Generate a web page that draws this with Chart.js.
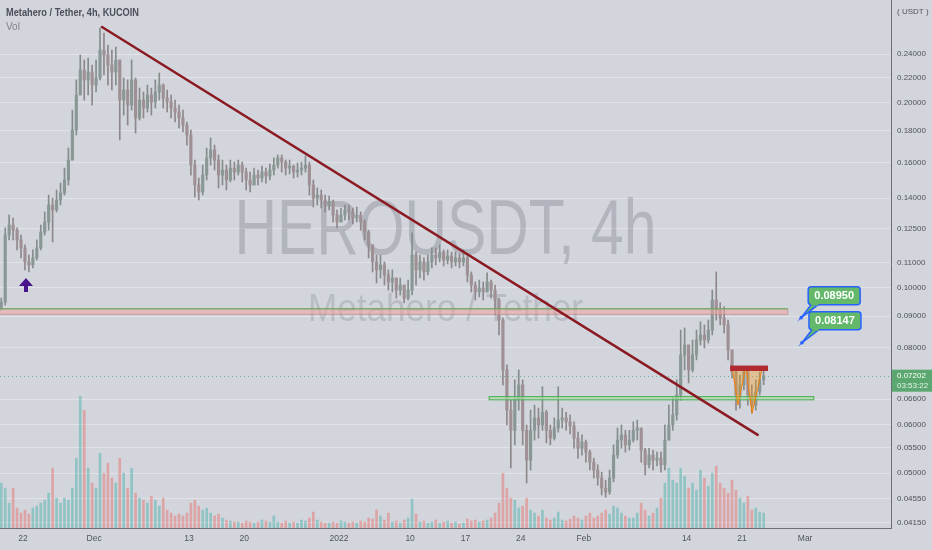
<!DOCTYPE html>
<html>
<head>
<meta charset="utf-8">
<script src="https://cdn.jsdelivr.net/npm/chart.js@4/dist/chart.umd.min.js"></script>
<style>
  html, body { margin: 0; padding: 0; background: #d2d5dc; }
  canvas { display: block; }
</style>
</head>
<body>
<canvas id="chart" width="932" height="550"></canvas>
<script>
// HEROUSDT, KuCoin. Candles are 12h, x is days counted from 22 Nov 2021.
const firstDay = -2.75;
const stepDay = 0.5;
const firstOpen = 0.0930;

const closes = [
  .0949,.1219,.1266,.1242,.1197,.1162,.1102,.1090,.1119,.1162,
  .1233,.1280,.1364,.1339,.1390,.1427,.1498,.1614,.1806,.2059,
  .2261,.2178,.2244,.2137,.2195,.2436,.2391,.2304,.2244,.2347,
  .2020,.2098,.1983,.2178,.1889,.2020,.1961,.2059,.2005,.2082,
  .2137,.2036,.2005,.1961,.1932,.1889,.1840,.1773,.1584,.1470,
  .1432,.1526,.1627,.1676,.1614,.1526,.1555,.1498,.1566,.1543,
  .1584,.1543,.1498,.1470,.1526,.1509,.1543,.1520,.1555,.1584,
  .1627,.1602,.1566,.1578,.1543,.1555,.1566,.1584,.1470,.1400,
  .1416,.1390,.1364,.1380,.1314,.1280,.1314,.1339,.1329,.1299,
  .1314,.1280,.1233,.1175,.1102,.1070,.1090,.1050,.1023,.1038,
  .0992,.1011,.0963,.0992,.1131,.1070,.1102,.1062,.1102,.1131,
  .1119,.1144,.1110,.1127,.1102,.1119,.1102,.1119,.1050,.1011,
  .0985,.1000,.0985,.1023,.0992,.0956,.0887,.0736,.0633,.0587,
  .0657,.0696,.0587,.0525,.0587,.0615,.0599,.0628,.0587,.0570,
  .0592,.0610,.0615,.0606,.0597,.0570,.0549,.0562,.0541,.0521,
  .0506,.0491,.0473,.0466,.0491,.0535,.0566,.0577,.0556,.0566,
  .0587,.0592,.0545,.0516,.0535,.0525,.0529,.0516,.0566,.0599,
  .0622,.0670,.0778,.0808,.0736,.0778,.0823,.0839,.0823,.0854,
  .0956,.0921,.0894,.0871,.0793,.0730,.0670,.0696,.0730,.0670,
  .0645,.0678,.0709,.0720
];
const highs = [
  .0963,.1252,.1314,.1299,.1252,.1219,.1175,.1131,.1153,.1197,
  .1266,.1329,.1416,.1400,.1443,.1481,.1566,.1688,.1946,.2178,
  .2391,.2347,.2364,.2304,.2347,.2646,.2597,.2482,.2436,.2464,
  .2347,.2195,.2178,.2347,.2195,.2113,.2082,.2137,.2113,.2178,
  .2236,.2146,.2098,.2059,.2020,.1983,.1946,.1861,.1806,.1614,
  .1509,.1584,.1688,.1753,.1707,.1645,.1614,.1584,.1614,.1602,
  .1614,.1602,.1566,.1543,.1566,.1555,.1578,.1566,.1590,.1627,
  .1645,.1645,.1614,.1614,.1584,.1596,.1602,.1639,.1602,.1498,
  .1454,.1443,.1416,.1411,.1390,.1339,.1349,.1364,.1364,.1349,
  .1354,.1329,.1290,.1242,.1175,.1131,.1131,.1102,.1070,.1070,
  .1038,.1038,.1011,.1030,.1229,.1144,.1131,.1119,.1131,.1162,
  .1162,.1175,.1153,.1153,.1144,.1144,.1136,.1153,.1131,.1062,
  .1023,.1030,.1023,.1058,.1030,.1011,.0963,.0894,.0750,.0657,
  .0709,.0736,.0709,.0599,.0633,.0645,.0638,.0691,.0633,.0599,
  .0615,.0691,.0638,.0628,.0622,.0606,.0583,.0577,.0566,.0545,
  .0529,.0516,.0502,.0487,.0506,.0556,.0592,.0599,.0587,.0587,
  .0606,.0610,.0592,.0549,.0549,.0545,.0541,.0541,.0599,.0645,
  .0665,.0709,.0854,.0861,.0808,.0823,.0854,.0881,.0871,.0887,
  .0992,.1062,.0946,.0932,.0887,.0793,.0742,.0722,.0744,.0736,
  .0696,.0709,.0730,.0736
];
const lows = [
  .0921,.0938,.1197,.1197,.1153,.1119,.1070,.1062,.1078,.1110,
  .1153,.1219,.1242,.1188,.1329,.1364,.1416,.1470,.1614,.1773,
  .2059,.2020,.2059,.1983,.2082,.2178,.2219,.2137,.2098,.2137,
  .1740,.1910,.1840,.1946,.1786,.1875,.1889,.1932,.1910,.1961,
  .2020,.1961,.1932,.1889,.1861,.1820,.1793,.1707,.1526,.1405,
  .1390,.1416,.1498,.1584,.1555,.1454,.1470,.1443,.1487,.1498,
  .1526,.1487,.1443,.1432,.1470,.1470,.1487,.1481,.1498,.1526,
  .1566,.1543,.1526,.1532,.1509,.1515,.1526,.1543,.1416,.1354,
  .1364,.1349,.1329,.1339,.1280,.1252,.1280,.1290,.1290,.1271,
  .1280,.1242,.1197,.1119,.1062,.1019,.1038,.1011,.0992,.0985,
  .0963,.0974,.0946,.0956,.0974,.1011,.1038,.1030,.1050,.1078,
  .1090,.1102,.1086,.1094,.1078,.1086,.1078,.1086,.1023,.0985,
  .0956,.0967,.0956,.0985,.0963,.0904,.0839,.0696,.0599,.0510,
  .0556,.0633,.0556,.0482,.0506,.0566,.0570,.0587,.0560,.0556,
  .0566,.0583,.0592,.0587,.0579,.0549,.0529,.0535,.0521,.0506,
  .0491,.0478,.0461,.0457,.0462,.0484,.0529,.0549,.0541,.0545,
  .0562,.0566,.0521,.0497,.0510,.0506,.0514,.0502,.0506,.0566,
  .0587,.0610,.0657,.0736,.0701,.0730,.0764,.0808,.0799,.0814,
  .0839,.0887,.0871,.0845,.0764,.0714,.0633,.0638,.0683,.0645,
  .0626,.0633,.0670,.0696
];
const volumes = [
  45,40,25,40,20,15,18,14,20,22,
  25,28,35,60,30,25,30,28,40,70,
  132,118,60,45,40,75,55,65,50,45,
  70,55,40,60,35,30,28,25,32,28,
  22,30,18,15,12,14,12,15,25,28,
  22,18,20,15,12,14,10,8,7,6,
  6,5,7,6,5,6,8,7,6,12,
  6,5,7,5,6,5,8,7,10,16,
  8,6,5,5,6,5,7,6,5,6,
  5,7,6,10,9,18,12,8,15,6,
  7,5,8,10,29,14,6,7,5,6,
  8,5,6,7,5,6,4,5,9,7,
  8,6,7,8,10,15,25,55,40,30,
  28,20,22,30,18,15,12,18,10,8,
  10,16,8,7,9,12,10,8,12,15,
  10,12,15,18,14,22,20,15,12,10,
  10,15,25,18,12,15,20,30,45,60,
  48,45,60,52,40,45,38,58,50,42,
  55,62,45,40,35,48,38,30,25,32,
  18,20,16,15
];

const yTicks = [0.24, 0.22, 0.20, 0.18, 0.16, 0.14, 0.125, 0.11, 0.10, 0.09, 0.08, 0.066, 0.06, 0.055, 0.05, 0.0455, 0.0415];
const xTickDays = [0, 9, 21, 28, 40, 49, 56, 63, 71, 84, 91, 99];
const xTickLabels = ['22', 'Dec', '13', '20', '2022', '10', '17', '24', 'Feb', '14', '21', 'Mar'];

// drawings, in (day, price)
const trendLine = [[10.0, 0.2656], [93.0, 0.0577]];
const resistanceBand = { x0: -3, x1: 96.8, top: 0.0925, bottom: 0.0906 };
const supportBand = { x0: 59.0, x1: 100.1, top: 0.0666, bottom: 0.0658 };
const neckRect = { x0: 89.5, x1: 94.3, top: 0.0748, bottom: 0.0733 };
const wPattern = [[89.75, 0.0744], [90.5, 0.0645], [91.5, 0.0744], [92.28, 0.0626], [93.54, 0.0736]];
const priceNotes = [
  { x: 98.5, y: 0.0895, text: '0.08950' },
  { x: 98.6, y: 0.08147, text: '0.08147' }
];
const upArrow = { x: 0.38, tip: 0.1038, base: 0.0985 };
const lastPrice = 0.07202;
const countdown = '03:53:22';

const BG = '#d2d5dc';
const TXT = '#50535e';
const FONT = '"Liberation Sans", Arial, sans-serif';

const opens = closes.map((c, i) => i === 0 ? firstOpen : closes[i - 1]);
const days = closes.map((c, i) => firstDay + i * stepDay);
const isUp = closes.map((c, i) => c >= opens[i]);

Chart.defaults.font.family = FONT;

const overlay = {
  id: 'overlay',
  beforeDraw(chart) {
    const ctx = chart.ctx;
    ctx.save();
    ctx.fillStyle = BG;
    ctx.fillRect(0, 0, chart.width, chart.height);
    ctx.restore();
  },
  beforeDatasetsDraw(chart) {
    const ctx = chart.ctx, a = chart.chartArea;
    const cx = (a.left + a.right) / 2, cy = (a.top + a.bottom) / 2;
    ctx.save();
    ctx.fillStyle = 'rgba(105,109,120,0.30)';
    ctx.textAlign = 'center';
    ctx.textBaseline = 'alphabetic';
    let t = 'HEROUSDT, 4h';
    ctx.font = '78px ' + FONT;
    let w = ctx.measureText(t).width;
    ctx.translate(cx, cy - 10);
    ctx.scale(422 / w, 1);
    ctx.fillText(t, 0, 0);
    ctx.restore();
    ctx.save();
    ctx.fillStyle = 'rgba(105,109,120,0.24)';
    ctx.textAlign = 'center';
    t = 'Metahero / Tether';
    ctx.font = '38px ' + FONT;
    w = ctx.measureText(t).width;
    ctx.translate(cx, cy + 57);
    ctx.scale(275 / w, 1);
    ctx.fillText(t, 0, 0);
    ctx.restore();
  },
  afterDatasetsDraw(chart) {
    const ctx = chart.ctx, a = chart.chartArea;
    const X = v => chart.scales.x.getPixelForValue(v);
    const Y = v => chart.scales.y.getPixelForValue(v);
    ctx.save();
    ctx.beginPath();
    ctx.rect(a.left, a.top, a.right - a.left, a.bottom - a.top);
    ctx.clip();

    // last price dotted line
    ctx.save();
    ctx.strokeStyle = 'rgba(88,166,111,0.8)';
    ctx.setLineDash([1, 3]);
    ctx.lineWidth = 1;
    ctx.beginPath();
    ctx.moveTo(a.left, Math.round(Y(lastPrice)) + 0.5);
    ctx.lineTo(a.right, Math.round(Y(lastPrice)) + 0.5);
    ctx.stroke();
    ctx.restore();

    // resistance band
    let r = resistanceBand;
    ctx.lineWidth = 1;
    ctx.fillStyle = 'rgba(236,165,160,0.55)';
    ctx.fillRect(X(r.x0), Y(r.top), X(r.x1) - X(r.x0), Y(r.bottom) - Y(r.top));
    ctx.strokeStyle = 'rgba(200,135,135,0.7)';
    ctx.strokeRect(X(r.x0), Y(r.top), X(r.x1) - X(r.x0), Y(r.bottom) - Y(r.top));
    ctx.strokeStyle = 'rgba(76,175,80,0.9)';
    ctx.beginPath(); ctx.moveTo(X(r.x0), Y(r.top)); ctx.lineTo(X(r.x1), Y(r.top)); ctx.stroke();

    // support band
    r = supportBand;
    ctx.fillStyle = 'rgba(170,215,170,0.7)';
    ctx.fillRect(X(r.x0), Y(r.top), X(r.x1) - X(r.x0), Y(r.bottom) - Y(r.top));
    ctx.strokeStyle = 'rgba(76,175,80,1)';
    ctx.strokeRect(X(r.x0), Y(r.top), X(r.x1) - X(r.x0), Y(r.bottom) - Y(r.top));

    // W pattern
    ctx.beginPath();
    wPattern.forEach((p, i) => i ? ctx.lineTo(X(p[0]), Y(p[1])) : ctx.moveTo(X(p[0]), Y(p[1])));
    ctx.closePath();
    ctx.fillStyle = 'rgba(255,152,0,0.32)';
    ctx.fill();
    ctx.strokeStyle = 'rgba(245,124,0,0.9)';
    ctx.stroke();

    // neckline block
    r = neckRect;
    ctx.fillStyle = '#b02a30';
    ctx.fillRect(X(r.x0), Y(r.top), X(r.x1) - X(r.x0), Y(r.bottom) - Y(r.top));

    // trend line
    ctx.strokeStyle = '#8b1a22';
    ctx.lineWidth = 2.5;
    ctx.lineCap = 'round';
    ctx.beginPath();
    ctx.moveTo(X(trendLine[0][0]), Y(trendLine[0][1]));
    ctx.lineTo(X(trendLine[1][0]), Y(trendLine[1][1]));
    ctx.stroke();

    // purple arrow
    const ax = X(upArrow.x), at = Y(upArrow.tip), ab = Y(upArrow.base);
    ctx.fillStyle = '#4a148c';
    ctx.beginPath();
    ctx.moveTo(ax, at);
    ctx.lineTo(ax + 7, at + 8);
    ctx.lineTo(ax + 2, at + 8);
    ctx.lineTo(ax + 2, ab);
    ctx.lineTo(ax - 2, ab);
    ctx.lineTo(ax - 2, at + 8);
    ctx.lineTo(ax - 7, at + 8);
    ctx.closePath();
    ctx.fill();
    ctx.restore();

    // price notes
    ctx.save();
    priceNotes.forEach(n => {
      const x = X(n.x), y = Y(n.y);
      const bx = x + 7, by = y - 31, bw = 52, bh = 18;
      ctx.lineWidth = 1.5;
      ctx.strokeStyle = '#2962ff';
      ctx.fillStyle = '#63b86a';
      ctx.beginPath();
      ctx.moveTo(x, y);
      ctx.lineTo(bx + 3, by + bh);
      ctx.lineTo(bx + 10, by + bh);
      ctx.closePath();
      ctx.fill();
      ctx.stroke();
      ctx.beginPath();
      ctx.roundRect(bx, by, bw, bh, 3);
      ctx.fill();
      ctx.stroke();
      ctx.fillRect(bx + 3, by + bh - 2, 7, 3);
      ctx.fillStyle = '#2962ff';
      ctx.beginPath(); ctx.arc(x, y, 1.8, 0, Math.PI * 2); ctx.fill();
      ctx.fillStyle = '#ffffff';
      ctx.font = 'bold 11px ' + FONT;
      ctx.textAlign = 'center';
      ctx.textBaseline = 'middle';
      ctx.fillText(n.text, bx + bw / 2, by + bh / 2 + 0.5);
    });
    ctx.restore();
  },
  afterDraw(chart) {
    const ctx = chart.ctx, a = chart.chartArea;
    const Y = v => chart.scales.y.getPixelForValue(v);
    ctx.save();
    // header
    ctx.fillStyle = '#4c4f59';
    ctx.textBaseline = 'middle';
    ctx.font = 'bold 10px ' + FONT;
    const t = 'Metahero / Tether, 4h, KUCOIN';
    const w = ctx.measureText(t).width;
    ctx.save();
    ctx.translate(6, 13);
    ctx.scale(133 / w, 1);
    ctx.fillText(t, 0, 0);
    ctx.restore();
    ctx.fillStyle = '#80838c';
    ctx.font = '10px ' + FONT;
    ctx.fillText('Vol', 6, 27);
    // currency
    ctx.fillStyle = TXT;
    ctx.font = '8px ' + FONT;
    ctx.fillText('( USDT )', a.right + 6, 12);
    // last price label
    const y = Y(lastPrice);
    ctx.fillStyle = '#5aa76f';
    ctx.fillRect(a.right + 1, y - 6, chart.width - a.right - 1, 22);
    ctx.fillStyle = '#ffffff';
    ctx.font = '8px ' + FONT;
    ctx.fillText(lastPrice.toFixed(5), a.right + 6, y);
    ctx.fillStyle = 'rgba(255,255,255,0.85)';
    ctx.fillText(countdown, a.right + 6, y + 10);
    ctx.restore();
  }
};

new Chart(document.getElementById('chart'), {
  type: 'bar',
  data: {
    datasets: [
      {
        label: 'Volume',
        yAxisID: 'yv',
        order: 3,
        grouped: false,
        barThickness: 2,
        data: volumes.map((v, i) => ({ x: days[i], y: v })),
        backgroundColor: isUp.map(u => u ? 'rgba(38,166,154,0.38)' : 'rgba(239,83,80,0.38)')
      },
      {
        label: 'Wick',
        yAxisID: 'y',
        order: 2,
        grouped: false,
        barThickness: 1,
        data: closes.map((c, i) => ({ x: days[i], y: [lows[i], highs[i]] })),
        backgroundColor: isUp.map(u => u ? '#858c8c' : '#8e878b')
      },
      {
        label: 'Body',
        yAxisID: 'y',
        order: 1,
        grouped: false,
        barThickness: 2.5,
        minBarLength: 1,
        data: closes.map((c, i) => ({ x: days[i], y: [opens[i], c] })),
        backgroundColor: isUp.map(u => u ? '#8a9895' : '#9e9094')
      }
    ]
  },
  options: {
    responsive: false,
    animation: false,
    devicePixelRatio: 1,
    layout: { padding: 0 },
    plugins: { legend: { display: false }, tooltip: { enabled: false } },
    scales: {
      x: {
        type: 'linear',
        min: -2.91,
        max: 109.87,
        bounds: 'data',
        offset: false,
        grid: { display: false, drawTicks: false },
        border: { display: true, color: '#6b6e78' },
        ticks: {
          autoSkip: false,
          maxRotation: 0,
          padding: 6,
          color: TXT,
          font: { size: 8.5 },
          callback: v => xTickLabels[xTickDays.indexOf(v)] || ''
        },
        afterBuildTicks: s => { s.ticks = xTickDays.map(v => ({ value: v })); },
        afterFit: s => { s.height = 22; s.paddingLeft = 0; s.paddingRight = 0; }
      },
      y: {
        type: 'logarithmic',
        position: 'right',
        min: 0.04073,
        max: 0.2938,
        bounds: 'data',
        grid: { color: '#e1e3e9', drawTicks: false },
        border: { display: true, color: '#6b6e78' },
        ticks: {
          autoSkip: false,
          padding: 6,
          color: TXT,
          font: { size: 8 },
          callback: v => Number(v).toFixed(5)
        },
        afterBuildTicks: s => { s.ticks = yTicks.map(v => ({ value: v })); },
        afterFit: s => { s.width = 41; s.paddingTop = 0; s.paddingBottom = 0; }
      },
      yv: { type: 'linear', display: false, min: 0, max: 530 }
    }
  },
  plugins: [overlay]
});
</script>
</body>
</html>
